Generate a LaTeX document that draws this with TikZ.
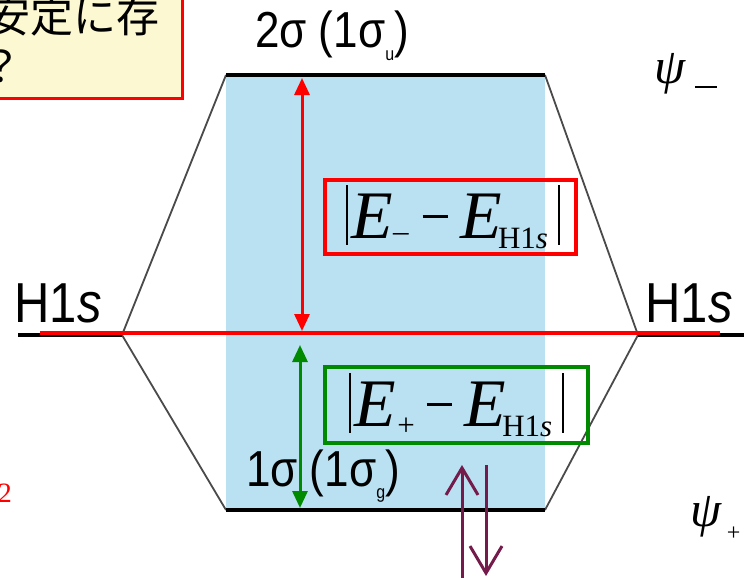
\documentclass[tikz,border=0pt]{standalone}
\usepackage{graphicx}
\usepackage{fontspec}
\setmainfont{Liberation Serif}
\setsansfont{Liberation Sans}
\newfontfamily\jpfont{Noto Sans CJK JP}
\usetikzlibrary{arrows.meta,positioning,calc}
\definecolor{mobluefill}{HTML}{B9E1F1}
\definecolor{noteyellow}{HTML}{FCF9D2}
\definecolor{corrgray}{HTML}{4A4A4A}
\definecolor{gapred}{HTML}{FF0000}
\definecolor{gapgreen}{HTML}{008A00}
\definecolor{spinpurple}{HTML}{741B4C}
\newcommand{\tallsans}[1]{\scalebox{1}[1.15]{#1}}
\newcommand{\gapbar}{\rule[-6pt]{2pt}{60pt}}
\newcommand{\gapminus}{\rule[20.5pt]{25pt}{3pt}}
\newcommand{\subsize}{\fontsize{31pt}{31pt}\selectfont}

\begin{document}
\begin{tikzpicture}[
  x=1pt, y=-1pt,
  >=Triangle,
  level/.style={line width=4.5pt, black},
  corrline/.style={line width=1.8pt, corrgray},
  gapbox/.style={
    draw,
    line width=4pt,
    inner sep=0pt,
    font=\fontsize{68pt}{68pt}\selectfont
  },
  gaparrow/.style={<->, line width=3pt, >={Triangle[width=15pt,length=17pt]}},
  spinarrow/.style={->, line width=3pt, spinpurple, >={Straight Barb[width=32pt,length=27pt]}},
  orblabel/.style={font=\sffamily\fontsize{44pt}{44pt}\selectfont, inner sep=0pt},
  atomlabel/.style={font=\sffamily\fontsize{49pt}{49pt}\selectfont, inner sep=0pt},
  wavelabel/.style={font=\fontsize{50pt}{50pt}\selectfont, inner sep=0pt, anchor=base west}
]
  \clip (0,0) rectangle (744,578);

  % ---------------------------------------------------------------------------
  % NOTE BOX (top left, cut off)
  % ---------------------------------------------------------------------------
  \node[draw=gapred, fill=noteyellow, line width=3pt, minimum width=220pt, minimum height=140pt, anchor=south east] (note) at (183.5,99.5) {};
  \node[anchor=east, inner sep=0pt, font=\jpfont\fontsize{43pt}{43pt}\selectfont] (noteA) at (160,16) {安定に存};
  \node[inner sep=0pt, font=\jpfont\fontsize{43pt}{43pt}\selectfont] (noteB) at (1,66) {？};

  % ---------------------------------------------------------------------------
  % MO LEVELS
  % ---------------------------------------------------------------------------
  \coordinate (aL) at (226,75);
  \coordinate (aR) at (545,75);
  \coordinate (bL) at (226,510);
  \coordinate (bR) at (545,510);
  \coordinate (hL) at (122,335);
  \coordinate (hR) at (638,335);
  \coordinate (hLend) at (18,335);
  \coordinate (hRend) at (744,335);

  \fill[mobluefill] (aL) rectangle (bR);

  \draw[corrline] (hL) -- (aL);
  \draw[corrline] (hL) -- (bL);
  \draw[corrline] (hR) -- (aR);
  \draw[corrline] (hR) -- (bR);

  \draw[level] (aL) -- (aR);
  \draw[level] (bL) -- (bR);
  \draw[level, line width=4pt] (hLend) -- (hL);
  \draw[level, line width=4pt] (hR) -- (hRend);

  % H1s reference energy
  \coordinate (eL) at (40,332.5);
  \coordinate (eR) at (720,332.5);
  \draw[gapred, line width=4pt] (eL) -- (eR);

  % ---------------------------------------------------------------------------
  % LABELS
  % ---------------------------------------------------------------------------
  \node[orblabel] (antilbl) at (332,36) {\tallsans{2σ (1σ\raisebox{-0.25em}{\fontsize{16pt}{16pt}\selectfont u})}};
  \node[orblabel] (bondlbl) at (323,476) {\tallsans{1σ (1σ\raisebox{-0.25em}{\fontsize{16pt}{16pt}\selectfont g})}};
  \node[atomlabel] (hLlbl) at (58,303) {\tallsans{H1\textit{s}}};
  \node[atomlabel] (hRlbl) at (689,303) {\tallsans{H1\textit{s}}};

  \node[wavelabel] (psiminus) at (654,83) {\textit{ψ}\hspace{9pt}\rule[-5pt]{22pt}{2.5pt}};
  \node[wavelabel] (psiplus) at (690,526) {\textit{ψ}\hspace{5pt}\raisebox{-14pt}{\fontsize{24pt}{24pt}\selectfont +}};

  \node[inner sep=0pt, text=gapred, font=\fontsize{28pt}{28pt}\selectfont] (htwo) at (5,493) {2};

  % ---------------------------------------------------------------------------
  % ENERGY GAPS
  % ---------------------------------------------------------------------------
  \coordinate (rT) at (302,78);
  \coordinate (rB) at (302,331);
  \draw[gaparrow, gapred] (rB) -- (rT);

  \coordinate (gT) at (300,345);
  \coordinate (gB) at (300,508);
  \draw[gaparrow, gapgreen] (gT) -- (gB);

  \node[gapbox, draw=gapred, minimum width=251pt, minimum height=74pt] (gapminus) at (450.5,217)
    {\hspace{5pt}\gapbar\hspace{4pt}\textit{E}\hspace{-0.5pt}\raisebox{-3pt}{\subsize –}\hspace{14pt}\gapminus\hspace{13pt}\textit{E}\hspace{-4pt}\raisebox{-10pt}{\subsize H1\textit{s}}\hspace{10pt}\gapbar};
  \node[gapbox, draw=gapgreen, minimum width=263pt, minimum height=76pt] (gapplus) at (456.5,405)
    {\gapbar\hspace{4pt}\textit{E}\hspace{1pt}\raisebox{-9pt}{\subsize +}\hspace{12pt}\gapminus\hspace{13pt}\textit{E}\hspace{-4pt}\raisebox{-10pt}{\subsize H1\textit{s}}\hspace{10pt}\gapbar\hspace{7pt}};

  % ---------------------------------------------------------------------------
  % ELECTRON PAIR
  % ---------------------------------------------------------------------------
  \coordinate (upB) at (462,580);
  \coordinate (upT) at (462,465);
  \coordinate (dnT) at (486,465);
  \coordinate (dnB) at (486,576);
  \draw[spinarrow] (upB) -- (upT);
  \draw[spinarrow] (dnT) -- (dnB);

\end{tikzpicture}
\end{document}
